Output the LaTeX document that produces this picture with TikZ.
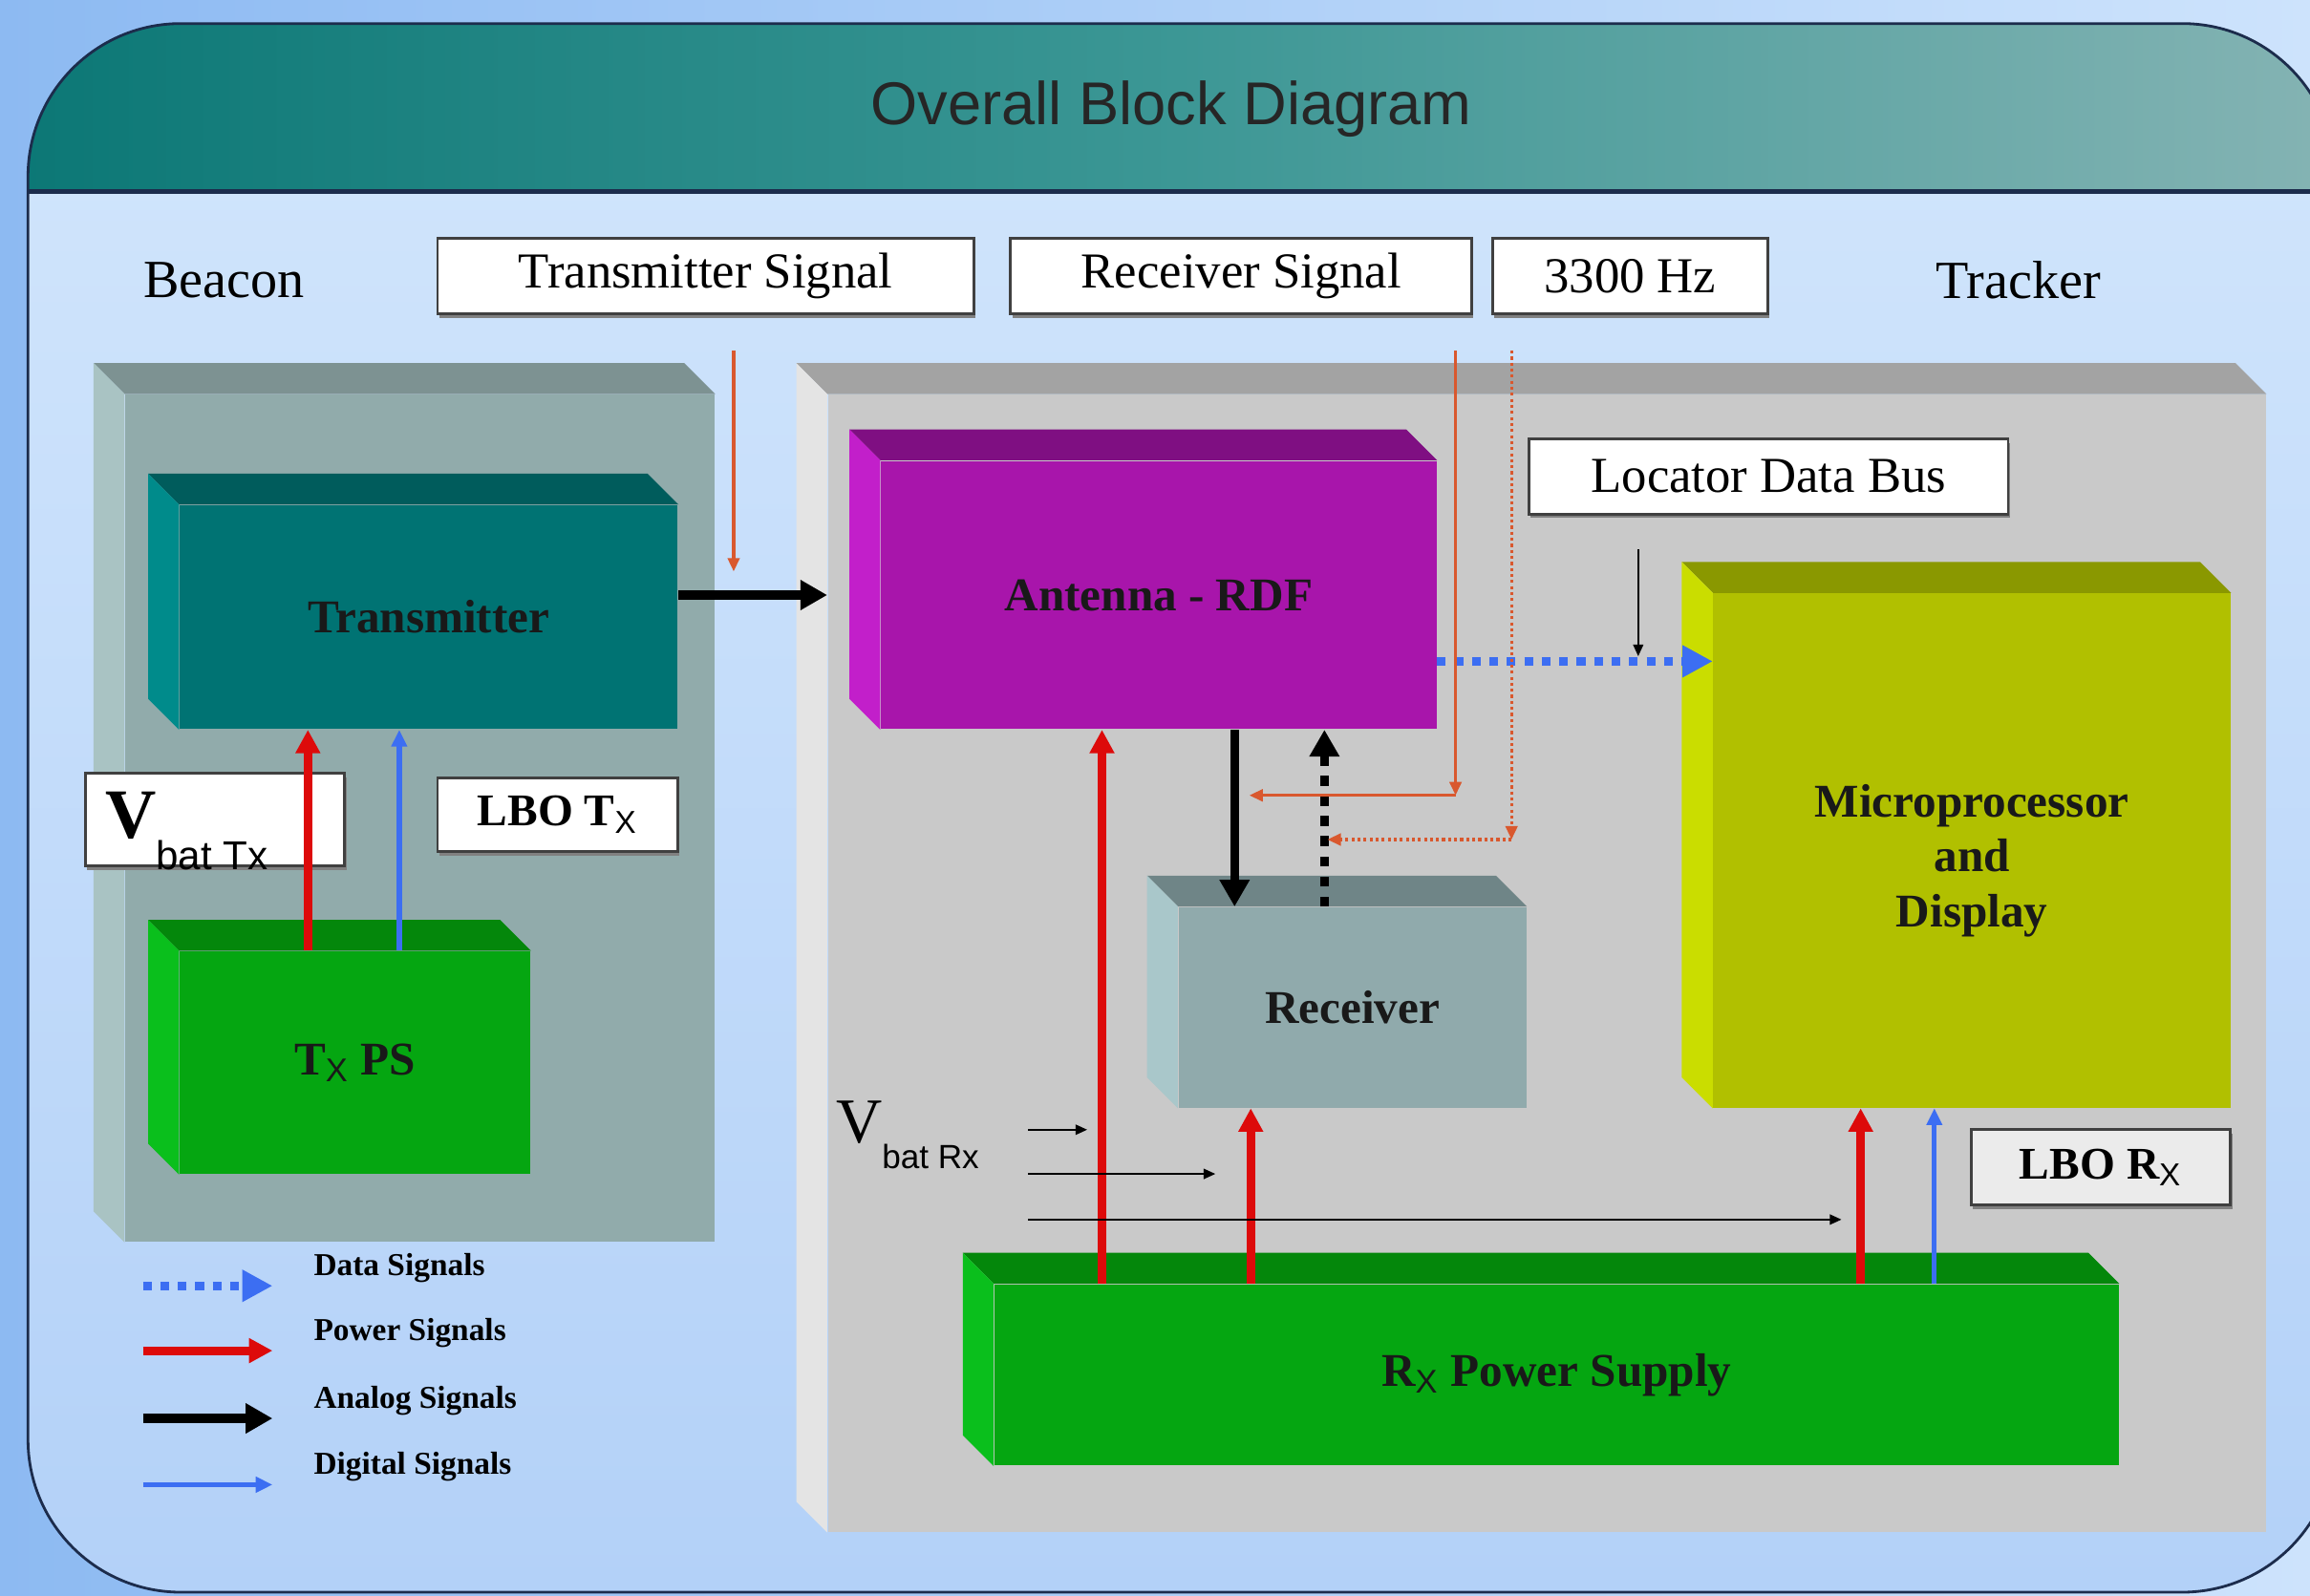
\documentclass[tikz,border=0pt]{standalone}
\usepackage{fontspec}
\setmainfont{Liberation Serif}
\setsansfont{Liberation Sans}
\usetikzlibrary{arrows.meta,fit,shadows}

\definecolor{bgout}{HTML}{8DBAF2}
\definecolor{bgtop}{HTML}{CDE3FC}
\definecolor{bgin}{HTML}{B3D1F8}
\definecolor{bginlt}{HTML}{D2E6FC}
\definecolor{frame}{HTML}{1C2C4C}
\definecolor{bandl}{HTML}{0B7775}
\definecolor{bandm}{HTML}{3C9795}
\definecolor{bandr}{HTML}{86B4B4}
\definecolor{bcfront}{HTML}{91ABAB}
\definecolor{bctop}{HTML}{7D9292}
\definecolor{bcside}{HTML}{A9C3C3}
\definecolor{tkfront}{HTML}{C9C9C9}
\definecolor{tktop}{HTML}{A3A3A3}
\definecolor{tkside}{HTML}{E4E4E4}
\definecolor{txfront}{HTML}{007373}
\definecolor{txtop}{HTML}{005C5C}
\definecolor{txside}{HTML}{008B8B}
\definecolor{psfront}{HTML}{05A611}
\definecolor{pstop}{HTML}{04870B}
\definecolor{psside}{HTML}{0ABF1C}
\definecolor{anfront}{HTML}{A815AB}
\definecolor{antop}{HTML}{7F0F82}
\definecolor{anside}{HTML}{C21FCA}
\definecolor{rxfront}{HTML}{90AAAC}
\definecolor{rxtop}{HTML}{6F8587}
\definecolor{rxside}{HTML}{A9C7CA}
\definecolor{mcfront}{HTML}{B1C000}
\definecolor{mctop}{HTML}{8A9800}
\definecolor{mcside}{HTML}{CADD00}
\definecolor{lbogray}{HTML}{EBEBEB}
\definecolor{pwred}{HTML}{DD0A0A}
\definecolor{dgblue}{HTML}{3C6EF2}
\definecolor{sigorange}{HTML}{D9582E}

\tikzset{
  blk/.style={inner sep=0pt},
  blktxt/.style={inner sep=0pt, align=center, text=black!90, font=\bfseries\fontsize{14}{16.4}\selectfont},
  lbox/.style={draw=black!75, line width=0.8pt, fill=white, inner sep=0pt,
    drop shadow={shadow xshift=0.5pt, shadow yshift=-1.2pt, fill=black!50, opacity=1}},
  lboxtxt/.style={inner sep=0pt, font=\fontsize{15}{17}\selectfont},
  lbotxt/.style={inner sep=0pt, font=\bfseries\fontsize{13.5}{16}\selectfont},
  sec/.style={font=\fontsize{16}{18}\selectfont},
  analog/.style={line width=2.6pt, -{Triangle[length=8pt,width=8.5pt]}},
  analogdot/.style={analog, dash pattern=on 3pt off 3pt},
  power/.style={pwred, line width=2.6pt, -{Triangle[length=7pt,width=7pt]}},
  digital/.style={dgblue, line width=1.5pt, -{Triangle[length=5pt,width=4.5pt]}},
  data/.style={dgblue, line width=2.6pt, dash pattern=on 2.6pt off 2.6pt, -{Triangle[length=9pt,width=9pt]}},
  sig/.style={sigorange, line width=0.9pt, -{Triangle[length=4pt,width=3.5pt]}},
  sigdot/.style={sig, dash pattern=on 0.9pt off 0.9pt},
  vbat/.style={line width=0.6pt, -{Triangle[length=3.5pt,width=3pt]}},
  legtxt/.style={anchor=west, font=\bfseries\fontsize{9.5}{11}\selectfont}
}

% 3D faces of a block: top and left side
\newcommand{\slab}[3]{%
  \fill[#2] (#1.north west) -- ++(-21,-21) -- ([shift={(-21,-21)}]#1.north east) -- (#1.north east) -- cycle;
  \fill[#3] (#1.north west) -- ++(-21,-21) -- ([shift={(-21,-21)}]#1.south west) -- (#1.south west) -- cycle;}
\newcommand{\subx}{\textsubscript{\sffamily\mdseries X}}

\begin{document}
\begin{tikzpicture}[x=0.01542cm,y=-0.01542cm]
\useasboundingbox (0,0) rectangle (1568,1083);
\clip (0,0) rectangle (1568,1083);
% background and frame
\shade[left color=bgout, right color=bgtop] (0,0) rectangle (1568,1083);
\shade[top color=bginlt, bottom color=bgin, rounded corners=1.6cm] (19,16) rectangle (1585,1081);
\begin{scope}
\clip[rounded corners=1.6cm] (19,16) rectangle (1585,1081);
\shade[left color=bandl, right color=bandr, middle color=bandm] (0,0) rectangle (1600,130);
\end{scope}
\draw[frame, line width=0.8pt, rounded corners=1.6cm] (19,16) rectangle (1585,1081);
\draw[frame, line width=1.4pt] (19,130) -- (1585,130);
\node[font=\sffamily\fontsize{18}{20}\selectfont, text=black!85] (title) at (795,74) {Overall Block Diagram};

% labels on top
\node[sec] (beaconlbl) at (152,190) {Beacon};
\node[sec] (trackerlbl) at (1370,190) {Tracker};
\node[lbox, fit={(297,162) (661,213)}] (txsig) {};
\node[lboxtxt] (txsigt) at (txsig) {Transmitter Signal};
\node[lbox, fit={(686,162) (999,213)}] (rxsig) {};
\node[lboxtxt] (rxsigt) at (rxsig) {Receiver Signal};
\node[lbox, fit={(1013,162) (1200,213)}] (hzsig) {};
\node[lboxtxt] (hzsigt) at (hzsig) {3300 Hz};

% containers
\node[blk, fill=bcfront, fit={(85,268) (485,843)}] (beacon) {};
\slab{beacon}{bctop}{bcside}
\node[blk, fill=tkfront, fit={(562,268) (1538,1040)}] (tracker) {};
\slab{tracker}{tktop}{tkside}

% beacon blocks
\node[blk, fill=txfront, fit={(122,343) (460,495)}] (tx) {};
\slab{tx}{txtop}{txside}
\node[blktxt] (txt) at (tx) {Transmitter};
\node[blk, fill=psfront, fit={(122,646) (360,797)}] (txps) {};
\slab{txps}{pstop}{psside}
\node[blktxt] (txpst) at (txps) {T\subx{} PS};
\node[lbox, fit={(58,525) (234,588)}] (vtxbox) {};
\node[anchor=base west, inner sep=0pt] (vtx) at (71,569)
  {\fontsize{21}{21}\selectfont\bfseries V\raisebox{-0.45em}{\sffamily\mdseries\fontsize{12}{12}\selectfont bat Tx}};
\node[lbox, fit={(297,528) (460,578)}] (lbotx) {};
\node[lbotxt] (lbotxt) at (lbotx) {LBO T\subx};

% tracker blocks
\node[blk, fill=anfront, fit={(598,313) (975,495)}] (antenna) {};
\slab{antenna}{antop}{anside}
\node[blktxt] (antennat) at (antenna) {Antenna - RDF};
\node[blk, fill=rxfront, fit={(800,616) (1036,752)}] (receiver) {};
\slab{receiver}{rxtop}{rxside}
\node[blktxt] (receivert) at (receiver) {Receiver};
\node[blk, fill=mcfront, fit={(1163,403) (1514,752)}] (micro) {};
\slab{micro}{mctop}{mcside}
\node[blktxt] (microt) at ([yshift=-3]micro.center) {Microprocessor\\and\\Display};
\node[blk, fill=psfront, fit={(675,872) (1438,995)}] (rxps) {};
\slab{rxps}{pstop}{psside}
\node[blktxt] (rxpst) at (rxps) {R\subx{} Power Supply};
\node[lbox, fit={(1038,298) (1363,349)}] (ldb) {};
\node[lboxtxt] (ldbt) at (ldb) {Locator Data Bus};
\node[lbox, fill=lbogray, fit={(1338,767) (1514,818)}] (lborx) {};
\node[lbotxt] (lborxt) at (lborx) {LBO R\subx};
\node[anchor=base west, inner sep=0pt] (vrx) at (567,776)
  {\fontsize{19}{19}\selectfont V\raisebox{-0.4em}{\sffamily\fontsize{10}{10}\selectfont bat Rx}};

% x positions of the vertical connectors
\coordinate (ptx) at (209,0);
\coordinate (dtx) at (271,0);
\coordinate (pant) at (748,0);
\coordinate (prx) at (849,0);
\coordinate (pmc) at (1263,0);
\coordinate (dmc) at (1313,0);
\coordinate (aarx) at (838,0);
\coordinate (darx) at (899,0);
\coordinate (dline) at (0,449);

% connectors
\draw[power] (txps.north -| ptx) -- (tx.south -| ptx);
\draw[digital] (txps.north -| dtx) -- (tx.south -| dtx);
\draw[analog] (tx.east |- antenna.west) -- (tracker.west |- antenna.west);
\draw[analog] (antenna.south -| aarx) -- (receiver.north -| aarx);
\draw[analogdot] (receiver.north -| darx) -- (antenna.south -| darx);
\draw[power] (rxps.north -| pant) -- (antenna.south -| pant);
\draw[power] (rxps.north -| prx) -- (receiver.south -| prx);
\draw[power] (rxps.north -| pmc) -- (micro.south -| pmc);
\draw[digital] (rxps.north -| dmc) -- (micro.south -| dmc);
\draw[data] (antenna.east |- dline) -- (micro.west |- dline);

\coordinate (ldbfrom) at (1112,373);
\draw[vbat] (ldbfrom) -- ([yshift=1.5]ldbfrom |- dline);

\coordinate (tsa) at (498,238);
\coordinate (tsb) at (498,388);
\draw[sig] (tsa) -- (tsb);
\coordinate (rsa) at (988,238);
\coordinate (rsb) at (988,540);
\coordinate (rsc) at (848,540);
\draw[sig] (rsa) -- (rsb);
\draw[sig] (rsb) -- (rsc);
\coordinate (hza) at (1026,238);
\coordinate (hzb) at (1026,570);
\coordinate (hzc) at (901,570);
\draw[sigdot] (hza) -- (hzb);
\draw[sigdot] (hzb) -- (hzc);

\foreach \n/\y/\xe in {1/767/738, 2/797/825, 3/828/1250}{
  \coordinate (vs\n) at (698,\y);
  \coordinate (ve\n) at (\xe,\y);
  \draw[vbat] (vs\n) -- (ve\n);
}

% legend
\foreach \n/\y/\sty/\txt in {1/873/data/Data Signals, 2/917/power/Power Signals,
    3/963/analog/Analog Signals, 4/1008/digital/Digital Signals}{
  \coordinate (ls\n) at (97,\y);
  \coordinate (le\n) at (185,\y);
  \draw[\sty] (ls\n) -- (le\n);
  \node[legtxt] (lt\n) at (205,\y-12) {\txt};
}
\end{tikzpicture}
\end{document}
